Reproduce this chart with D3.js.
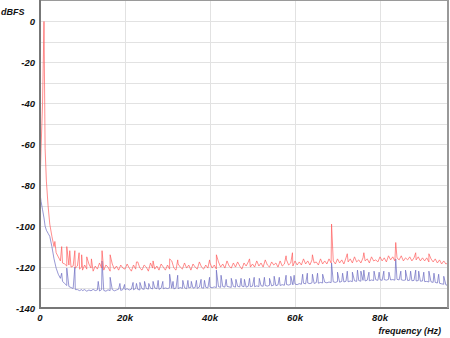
<!DOCTYPE html>
<html>
<head>
<meta charset="utf-8">
<script src="https://cdn.jsdelivr.net/npm/d3@7"></script>
<style>
  body { margin: 0; background: #fff; }
  text { font-family: "Liberation Sans", Arial, sans-serif; font-weight: bold; font-style: italic; fill: #111; }
</style>
</head>
<body>
<main></main>
<script>
const width = 450;
const height = 338;
const margin = {top: 1, right: 2, bottom: 30, left: 40};

// y ticks (dBFS) and x ticks (kHz)
const yTicks = [0, -20, -40, -60, -80, -100, -120, -140];
const yGrid = [0, -10, -20, -30, -40, -50, -60, -70, -80, -90, -100, -110, -120, -130];
const xTicks = [0, 20, 40, 60, 80];
const xTickLabels = ['0', '20k', '40k', '60k', '80k'];

// low frequency part, around the 1 kHz tone (kHz)
const lowKHz = [0, 0.25, 0.6, 0.94, 1.2, 1.5, 1.9, 2.3, 2.8, 3.3, 3.8, 4.3, 4.8, 5.3, 5.8, 6.3, 6.8, 7.3, 7.8, 8.3, 8.8, 9.3, 9.8];
const redLow = [-81, -62, -40, 0, -62, -78, -90, -99, -105, -110, -113, -115, -117, -118, -118.5, -119.5, -119, -120, -119.5, -120.5, -119.5, -121, -120];
const blueLow = [-84, -88, -92, -96, -100, -102, -103.5, -105, -110, -116, -120.5, -123.5, -125.5, -127, -128, -129, -129.5, -130, -130.5, -131, -131, -131.5, -131];

// noise floor from 10 kHz to 96 kHz, one value every 0.5 kHz
const floorStart = 10;
const floorStep = 0.5;
const redFloor = [
  -121.5,-119,-121,-118.5,-120.5,-122,-119.5,-121,-118,-120.5,-121.5,-119,-120,-122,-118.5,-121,-119.5,-121.5,-119,-120.5,
  -121,-118.5,-120.5,-122,-119,-121,-117.5,-120.5,-121.5,-119,-120,-122,-118,-120.5,-121,-119.5,-121.5,-118.5,-120,-121.5,
  -119,-121,-117,-120.5,-121.5,-118.5,-120,-121,-118,-120.5,-119,-121.5,-118.5,-120,-121,-117.5,-120,-121,-119,-120.5,
  -118,-120.5,-119,-121,-117.5,-120,-118.5,-120.5,-117,-119.5,-120.5,-118,-120,-117.5,-119.5,-121,-118,-119.5,-117.5,-120,
  -118.5,-120,-117,-119.5,-118,-120,-116.5,-119,-120,-117.5,-119,-118,-120,-117,-119.5,-118.5,-116.5,-119,-118,-119.5,
  -117,-119,-117.5,-119,-116,-118.5,-117,-119,-116.5,-118,-117.5,-119,-116,-118.5,-117,-118.5,-116,-118,-117,-118.5,
  -116,-118,-116.5,-118.5,-115.5,-117.5,-116,-118,-115,-117.5,-116.5,-118,-115.5,-117,-116,-118,-115,-117,-116.5,-117.5,
  -115,-117,-115.5,-117.5,-114.5,-116.5,-115,-117,-115.5,-116.5,-114.5,-117,-115.5,-116.5,-115,-117,-115.5,-116.5,-115,-117,
  -115.5,-117,-115.5,-117.5,-116,-117.5,-116,-118,-116.5,-118.5,-117,-118.5,-118
];
const blueFloor = [
  -131.5,-131,-131.8,-131.2,-131.6,-130.9,-131.5,-131.2,-131.7,-131,-131.4,-131.8,-131.1,-131.5,-131,-131.6,-131.2,-130.8,-131.4,-131,
  -131,-130.6,-131.2,-130.8,-131.1,-130.5,-130.9,-131.2,-130.6,-130.9,-130.4,-130.8,-130.3,-130.7,-130.2,-130.6,-130.9,-130.3,-130.6,-130.2,
  -130.5,-130.1,-130.4,-130.7,-130.2,-130.5,-130,-130.4,-130.1,-130.6,-130.2,-129.9,-130.3,-130,-130.4,-129.8,-130.1,-130.3,-129.9,-130.2,
  -129.8,-130.1,-129.7,-130,-129.6,-129.9,-129.5,-129.8,-129.4,-129.7,-129.9,-129.5,-129.8,-129.4,-129.7,-129.3,-129.6,-129.8,-129.4,-129.6,
  -129.3,-129.6,-129.2,-129.5,-129.1,-129.4,-129,-129.3,-128.9,-129.2,-128.8,-129.1,-128.7,-129,-128.6,-128.9,-128.5,-128.8,-128.4,-128.7,
  -128.3,-128.6,-128.1,-128.4,-127.9,-128.2,-127.8,-128.1,-127.7,-128,-127.6,-127.9,-127.5,-127.8,-127.4,-127.7,-127.3,-127.6,-127.2,-127.5,
  -127.1,-127.4,-127,-127.3,-126.9,-127.2,-126.8,-127.1,-126.7,-127,-126.6,-126.9,-126.5,-126.8,-126.4,-126.7,-126.3,-126.6,-126.2,-126.5,
  -126.2,-126.5,-126.1,-126.4,-126,-126.3,-126.1,-126.4,-126,-126.3,-126.2,-126.5,-126.3,-126.6,-126.4,-126.7,-126.5,-126.8,-126.6,-126.9,
  -126.8,-127.1,-127,-127.3,-127.2,-127.5,-127.5,-127.8,-127.9,-128.2,-128.4,-128.7,-129
];

// spurs [kHz, dBFS]
const redSpurs = [
  [3.5,-107.5],[5.1,-110],[6.3,-110],[7.0,-112],[8.2,-112],[9.2,-113],[9.8,-114],[11.0,-115],[12.1,-116],
  [14.6,-112],[16.5,-114],[22.7,-117.5],[26.6,-117],[30.5,-116],[32.4,-116.5],[39.9,-116.5],[41.5,-114],
  [49.3,-116],[57.9,-114.5],[59.4,-113],[64.1,-114],[68.6,-99],[72.3,-113.5],[76.2,-113],[83.7,-108],
  [88.4,-113],[91.5,-113.5]
];
const blueSpurs = [
  [5.1,-123],[6.3,-120.5],[8.2,-120],[13.7,-127],[14.6,-117],[16.5,-125],[18.8,-128],[19.9,-128.5],
  [21.9,-127.5],[22.7,-128],[23.5,-127.5],[24.6,-127],[25.6,-128],[26.6,-127],[27.8,-126.5],[28.9,-127],
  [30.5,-123.5],[31.3,-127],[32.4,-124],[33.6,-126.5],[34.8,-126.5],[35.6,-127],[36.8,-126.5],[37.9,-126],
  [38.7,-126.5],[39.9,-125],[41.5,-121.5],[42.6,-124],[43.8,-126],[45.0,-125.5],[46.1,-126],[47.3,-125.5],
  [48.1,-126],[49.3,-125.5],[50.4,-125],[51.6,-125.5],[52.8,-125],[54.0,-125.5],[55.1,-124.5],[56.3,-125],
  [57.9,-124],[59.0,-124.5],[59.8,-124],[61.8,-123.5],[62.9,-123],[64.1,-123.5],[65.3,-123],[66.5,-123.5],
  [68.6,-118],[70.0,-122.5],[71.2,-123],[72.3,-122],[73.5,-122.5],[74.7,-121.5],[75.5,-122],[76.2,-121.5],
  [77.4,-122.5],[78.6,-122],[79.8,-122.5],[80.9,-122],[82.1,-122.5],[83.7,-116],[84.9,-122],[86.0,-121.5],
  [87.2,-122],[88.4,-121.5],[89.1,-122],[90.3,-122.5],[91.5,-122],[92.7,-123],[93.8,-123.5],[95.0,-124.5]
];

const buildSeries = (low, floor, spurs) => {
  const pts = lowKHz.map((f, i) => [f, low[i]]);
  floor.forEach((v, i) => pts.push([floorStart + i * floorStep, v]));
  spurs.forEach(s => pts.push(s));
  return pts.sort((a, b) => a[0] - b[0]);
};

const x = d3.scaleLinear().domain([0, 96]).range([margin.left, width - margin.right]);
const y = d3.scaleLinear().domain([-140, 10]).range([height - margin.bottom, margin.top]);

const svg = d3.select('main').append('svg')
  .attr('width', width)
  .attr('height', height);

// grid
svg.append('g').selectAll('line')
  .data(yGrid)
  .enter().append('line')
  .attr('x1', x(0)).attr('x2', x(96))
  .attr('y1', d => Math.round(y(d)) + 0.5).attr('y2', d => Math.round(y(d)) + 0.5)
  .style('stroke', '#e2e2e2');

svg.append('g').selectAll('line')
  .data(xTicks.slice(1))
  .enter().append('line')
  .attr('x1', d => Math.round(x(d)) + 0.5).attr('x2', d => Math.round(x(d)) + 0.5)
  .attr('y1', y(10)).attr('y2', y(-140))
  .style('stroke', '#e2e2e2');

const line = d3.line()
  .x(d => x(d[0]))
  .y(d => y(d[1]));

svg.append('path')
  .datum(buildSeries(blueLow, blueFloor, blueSpurs))
  .attr('d', line)
  .style('fill', 'none')
  .style('stroke', '#6a6ac0')
  .style('stroke-width', 0.7);

svg.append('path')
  .datum(buildSeries(redLow, redFloor, redSpurs))
  .attr('d', line)
  .style('fill', 'none')
  .style('stroke', '#ff5c5c')
  .style('stroke-width', 0.7);

// frame
svg.append('rect')
  .attr('x', x(0)).attr('y', 0.5)
  .attr('width', x(96) - x(0)).attr('height', y(-140) - 0.5)
  .style('fill', 'none')
  .style('stroke', '#9a9a9a');
svg.append('line')
  .attr('x1', x(0)).attr('x2', x(0))
  .attr('y1', 0).attr('y2', y(-140) + 1)
  .style('stroke', '#777').style('stroke-width', 2);
svg.append('line')
  .attr('x1', x(0) - 1).attr('x2', x(96) + 1)
  .attr('y1', y(-140)).attr('y2', y(-140))
  .style('stroke', '#777').style('stroke-width', 2);
svg.append('line')
  .attr('x1', x(96)).attr('x2', x(96))
  .attr('y1', 0).attr('y2', y(-140))
  .style('stroke', '#999').style('stroke-width', 2);

// tick labels
svg.append('g').selectAll('text')
  .data(yTicks)
  .enter().append('text')
  .attr('x', 35)
  .attr('y', d => y(d) + 3.5)
  .attr('text-anchor', 'end')
  .style('font-size', '9.5px')
  .text(d => d);

svg.append('g').selectAll('text')
  .data(xTicks)
  .enter().append('text')
  .attr('x', d => x(d))
  .attr('y', 321)
  .attr('text-anchor', 'middle')
  .style('font-size', '9.5px')
  .text((d, i) => xTickLabels[i]);

svg.append('text')
  .attr('x', 1).attr('y', 15)
  .style('font-size', '9px')
  .text('dBFS');

svg.append('text')
  .attr('x', 441).attr('y', 334)
  .attr('text-anchor', 'end')
  .style('font-size', '9px')
  .text('frequency (Hz)');
</script>
</body>
</html>
